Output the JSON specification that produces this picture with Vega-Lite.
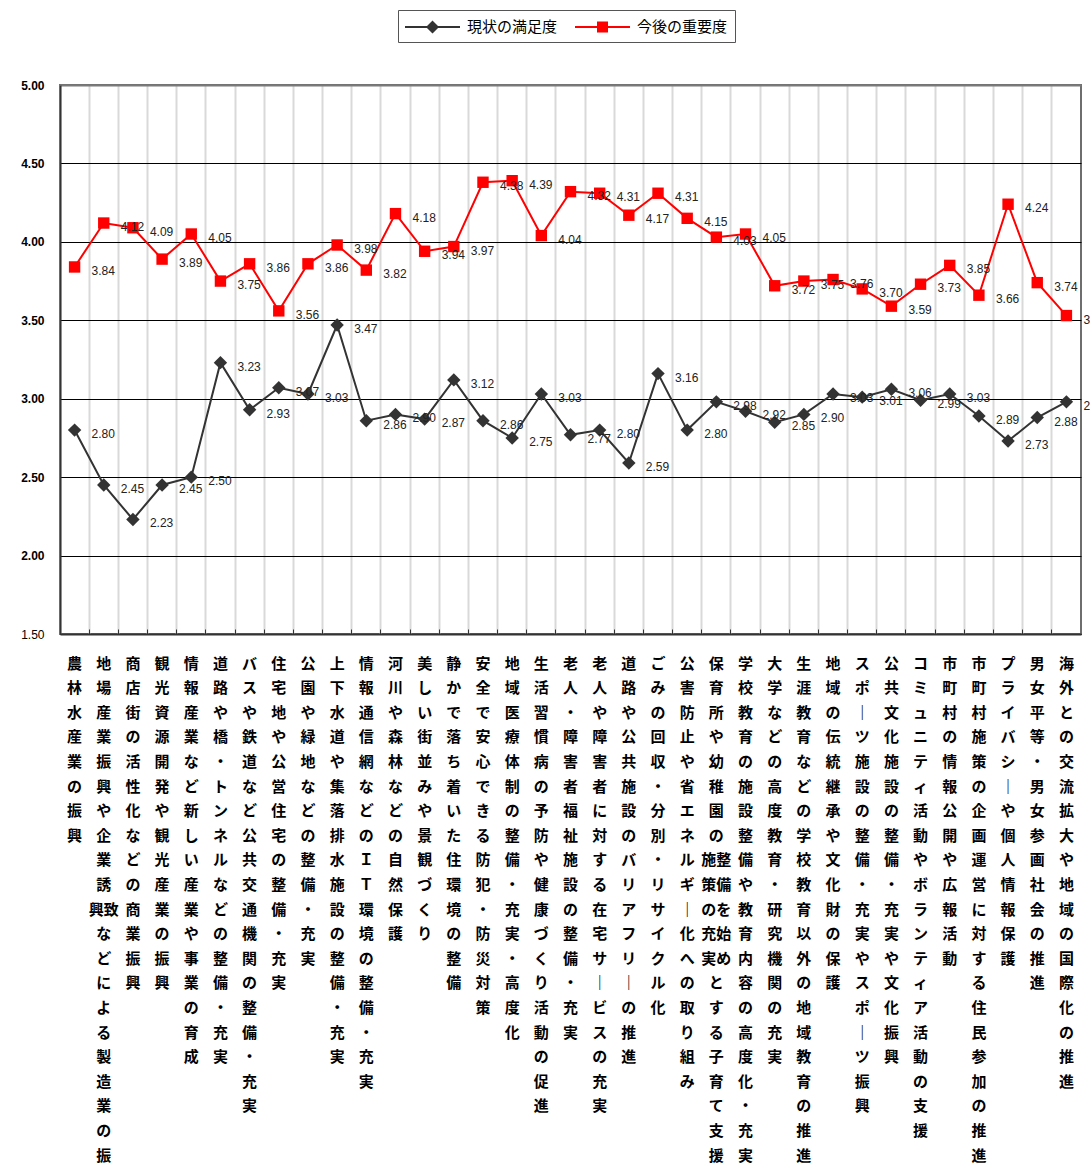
{
  "$schema": "https://vega.github.io/schema/vega-lite/v6.json",
  "width": 1021,
  "height": 549,
  "autosize": {"type": "none"},
  "padding": {"left": 60, "top": 85, "right": 9, "bottom": 540},
  "background": "white",
  "config": {"view": {"stroke": "#6e6e6e", "strokeWidth": 2}},
  "datasets": {
    "rows": [
      {"item": "農林水産業の振興", "series": "現状の満足度", "value": 2.80},
      {"item": "地場産業振興や企業誘致などによる製造業の振興", "series": "現状の満足度", "value": 2.45},
      {"item": "商店街の活性化などの商業振興", "series": "現状の満足度", "value": 2.23},
      {"item": "観光資源開発や観光産業の振興", "series": "現状の満足度", "value": 2.45},
      {"item": "情報産業など新しい産業や事業の育成", "series": "現状の満足度", "value": 2.50},
      {"item": "道路や橋・トンネルなどの整備・充実", "series": "現状の満足度", "value": 3.23},
      {"item": "バスや鉄道など公共交通機関の整備・充実", "series": "現状の満足度", "value": 2.93},
      {"item": "住宅地や公営住宅の整備・充実", "series": "現状の満足度", "value": 3.07},
      {"item": "公園や緑地などの整備・充実", "series": "現状の満足度", "value": 3.03},
      {"item": "上下水道や集落排水施設の整備・充実", "series": "現状の満足度", "value": 3.47},
      {"item": "情報通信網などのＩＴ環境の整備・充実", "series": "現状の満足度", "value": 2.86},
      {"item": "河川や森林などの自然保護", "series": "現状の満足度", "value": 2.90},
      {"item": "美しい街並みや景観づくり", "series": "現状の満足度", "value": 2.87},
      {"item": "静かで落ち着いた住環境の整備", "series": "現状の満足度", "value": 3.12},
      {"item": "安全で安心できる防犯・防災対策", "series": "現状の満足度", "value": 2.86},
      {"item": "地域医療体制の整備・充実・高度化", "series": "現状の満足度", "value": 2.75},
      {"item": "生活習慣病の予防や健康づくり活動の促進", "series": "現状の満足度", "value": 3.03},
      {"item": "老人・障害者福祉施設の整備・充実", "series": "現状の満足度", "value": 2.77},
      {"item": "老人や障害者に対する在宅サービスの充実", "series": "現状の満足度", "value": 2.80},
      {"item": "道路や公共施設のバリアフリーの推進", "series": "現状の満足度", "value": 2.59},
      {"item": "ごみの回収・分別・リサイクル化", "series": "現状の満足度", "value": 3.16},
      {"item": "公害防止や省エネルギー化への取り組み", "series": "現状の満足度", "value": 2.80},
      {"item": "保育所や幼稚園の整備を始めとする子育て支援施策の充実", "series": "現状の満足度", "value": 2.98},
      {"item": "学校教育の施設整備や教育内容の高度化・充実", "series": "現状の満足度", "value": 2.92},
      {"item": "大学などの高度教育・研究機関の充実", "series": "現状の満足度", "value": 2.85},
      {"item": "生涯教育などの学校教育以外の地域教育の推進", "series": "現状の満足度", "value": 2.90},
      {"item": "地域の伝統継承や文化財の保護", "series": "現状の満足度", "value": 3.03},
      {"item": "スポーツ施設の整備・充実やスポーツ振興", "series": "現状の満足度", "value": 3.01},
      {"item": "公共文化施設の整備・充実や文化振興", "series": "現状の満足度", "value": 3.06},
      {"item": "コミュニティ活動やボランティア活動の支援", "series": "現状の満足度", "value": 2.99},
      {"item": "市町村の情報公開や広報活動", "series": "現状の満足度", "value": 3.03},
      {"item": "市町村施策の企画運営に対する住民参加の推進", "series": "現状の満足度", "value": 2.89},
      {"item": "プライバシーや個人情報保護", "series": "現状の満足度", "value": 2.73},
      {"item": "男女平等・男女参画社会の推進", "series": "現状の満足度", "value": 2.88},
      {"item": "海外との交流拡大や地域の国際化の推進", "series": "現状の満足度", "value": 2.98},
      {"item": "農林水産業の振興", "series": "今後の重要度", "value": 3.84},
      {"item": "地場産業振興や企業誘致などによる製造業の振興", "series": "今後の重要度", "value": 4.12},
      {"item": "商店街の活性化などの商業振興", "series": "今後の重要度", "value": 4.09},
      {"item": "観光資源開発や観光産業の振興", "series": "今後の重要度", "value": 3.89},
      {"item": "情報産業など新しい産業や事業の育成", "series": "今後の重要度", "value": 4.05},
      {"item": "道路や橋・トンネルなどの整備・充実", "series": "今後の重要度", "value": 3.75},
      {"item": "バスや鉄道など公共交通機関の整備・充実", "series": "今後の重要度", "value": 3.86},
      {"item": "住宅地や公営住宅の整備・充実", "series": "今後の重要度", "value": 3.56},
      {"item": "公園や緑地などの整備・充実", "series": "今後の重要度", "value": 3.86},
      {"item": "上下水道や集落排水施設の整備・充実", "series": "今後の重要度", "value": 3.98},
      {"item": "情報通信網などのＩＴ環境の整備・充実", "series": "今後の重要度", "value": 3.82},
      {"item": "河川や森林などの自然保護", "series": "今後の重要度", "value": 4.18},
      {"item": "美しい街並みや景観づくり", "series": "今後の重要度", "value": 3.94},
      {"item": "静かで落ち着いた住環境の整備", "series": "今後の重要度", "value": 3.97},
      {"item": "安全で安心できる防犯・防災対策", "series": "今後の重要度", "value": 4.38},
      {"item": "地域医療体制の整備・充実・高度化", "series": "今後の重要度", "value": 4.39},
      {"item": "生活習慣病の予防や健康づくり活動の促進", "series": "今後の重要度", "value": 4.04},
      {"item": "老人・障害者福祉施設の整備・充実", "series": "今後の重要度", "value": 4.32},
      {"item": "老人や障害者に対する在宅サービスの充実", "series": "今後の重要度", "value": 4.31},
      {"item": "道路や公共施設のバリアフリーの推進", "series": "今後の重要度", "value": 4.17},
      {"item": "ごみの回収・分別・リサイクル化", "series": "今後の重要度", "value": 4.31},
      {"item": "公害防止や省エネルギー化への取り組み", "series": "今後の重要度", "value": 4.15},
      {"item": "保育所や幼稚園の整備を始めとする子育て支援施策の充実", "series": "今後の重要度", "value": 4.03},
      {"item": "学校教育の施設整備や教育内容の高度化・充実", "series": "今後の重要度", "value": 4.05},
      {"item": "大学などの高度教育・研究機関の充実", "series": "今後の重要度", "value": 3.72},
      {"item": "生涯教育などの学校教育以外の地域教育の推進", "series": "今後の重要度", "value": 3.75},
      {"item": "地域の伝統継承や文化財の保護", "series": "今後の重要度", "value": 3.76},
      {"item": "スポーツ施設の整備・充実やスポーツ振興", "series": "今後の重要度", "value": 3.70},
      {"item": "公共文化施設の整備・充実や文化振興", "series": "今後の重要度", "value": 3.59},
      {"item": "コミュニティ活動やボランティア活動の支援", "series": "今後の重要度", "value": 3.73},
      {"item": "市町村の情報公開や広報活動", "series": "今後の重要度", "value": 3.85},
      {"item": "市町村施策の企画運営に対する住民参加の推進", "series": "今後の重要度", "value": 3.66},
      {"item": "プライバシーや個人情報保護", "series": "今後の重要度", "value": 4.24},
      {"item": "男女平等・男女参画社会の推進", "series": "今後の重要度", "value": 3.74},
      {"item": "海外との交流拡大や地域の国際化の推進", "series": "今後の重要度", "value": 3.53}
    ]
  },
  "data": {"name": "rows"},
  "encoding": {
    "x": {
      "field": "item",
      "type": "nominal",
      "sort": null,
      "title": null,
      "scale": {"type": "band", "paddingInner": 0, "paddingOuter": 0},
      "axis": {
        "bandPosition": 0,
        "grid": true,
        "gridColor": "#d9d9d9",
        "gridWidth": 2,
        "ticks": true,
        "tickSize": -5,
        "tickColor": "#333333",
        "tickWidth": 1,
        "domain": true,
        "domainColor": "#333333",
        "domainWidth": 2,
        "labelAngle": 0,
        "labelAlign": "center",
        "labelBaseline": "top",
        "labelPadding": 27,
        "labelFont": "Noto Sans CJK JP",
        "labelFontWeight": "bold",
        "labelFontSize": 15,
        "labelLineHeight": 24.6,
        "labelColor": "#000000",
        "labelOverlap": false,
        "labelBound": false,
        "labelLimit": 0,
        "labelExpr": "datum.label === '地場産業振興や企業誘致などによる製造業の振興' ? ['地','場','産','業','振','興','や','企','業','誘','興致','な','ど','に','よ','る','製','造','業','の','振'] : datum.label === '保育所や幼稚園の整備を始めとする子育て支援施策の充実' ? ['保','育','所','や','幼','稚','園','の','施整','策備','のを','充始','実め','と','す','る','子','育','て','支','援'] : split(replace(datum.label, regexp('ー', 'g'), '｜'), '')"
      }
    },
    "y": {
      "field": "value",
      "type": "quantitative",
      "title": null,
      "scale": {"domain": [1.5, 5], "nice": false, "zero": false},
      "axis": {
        "values": [1.5, 2, 2.5, 3, 3.5, 4, 4.5, 5],
        "format": ".2f",
        "grid": true,
        "gridColor": {"condition": {"test": "datum.value == 5", "value": "#7a7a7a"}, "value": "#000000"},
        "gridWidth": {"condition": {"test": "datum.value == 5", "value": 2}, "value": 1},
        "ticks": false,
        "tickSize": 0,
        "domain": true,
        "domainColor": "#333333",
        "domainWidth": 2,
        "labelPadding": 16,
        "labelFont": "Liberation Sans",
        "labelFontSize": 12,
        "labelFontWeight": {"condition": {"test": "datum.value == 1.5", "value": "normal"}, "value": "bold"},
        "labelColor": "#000000"
      }
    }
  },
  "layer": [
    {
      "mark": {"type": "line", "strokeWidth": 2},
      "encoding": {
        "color": {
          "field": "series",
          "type": "nominal",
          "scale": {"domain": ["現状の満足度", "今後の重要度"], "range": ["#333333", "#ff0000"]},
          "legend": {
            "orient": "none",
            "legendX": 338,
            "legendY": -75,
            "direction": "horizontal",
            "title": null,
            "labelFont": "Noto Sans CJK JP",
            "labelFontSize": 15,
            "labelColor": "#000000",
            "symbolSize": 400,
            "labelOffset": 42,
            "columnPadding": 17,
            "padding": 7,
            "strokeColor": "#555555",
            "fillColor": "#ffffff",
            "symbolOpacity": 1,
            "encode": {
              "symbols": {
                "update": {
                  "shape": {"signal": "datum.value === '現状の満足度' ? 'M-1,-0.1H4.5V0.1H-1Z M1.1,0L1.75,-0.65L2.4,0L1.75,0.65Z' : 'M-1,-0.1H4.5V0.1H-1Z M1.2,-0.55H2.3V0.55H1.2Z'"},
                  "fill": {"signal": "datum.value === '現状の満足度' ? '#333333' : '#ff0000'"},
                  "stroke": {"value": "transparent"},
                  "strokeWidth": {"value": 0},
                  "opacity": {"value": 1},
                  "fillOpacity": {"value": 1}
                }
              }
            }
          }
        }
      }
    },
    {
      "transform": [{"filter": "datum.series === '現状の満足度'"}],
      "mark": {"type": "point", "filled": true, "opacity": 1, "shape": "diamond", "size": 180, "color": "#333333"}
    },
    {
      "transform": [{"filter": "datum.series === '今後の重要度'"}],
      "mark": {"type": "point", "filled": true, "opacity": 1, "shape": "square", "size": 130, "color": "#ff0000"}
    },
    {
      "mark": {"type": "text", "align": "left", "baseline": "middle", "dx": 17, "dy": 4, "font": "Liberation Sans", "fontSize": 12, "color": "#222222"},
      "encoding": {
        "text": {"field": "value", "type": "quantitative", "format": ".2f"}
      }
    }
  ]
}
